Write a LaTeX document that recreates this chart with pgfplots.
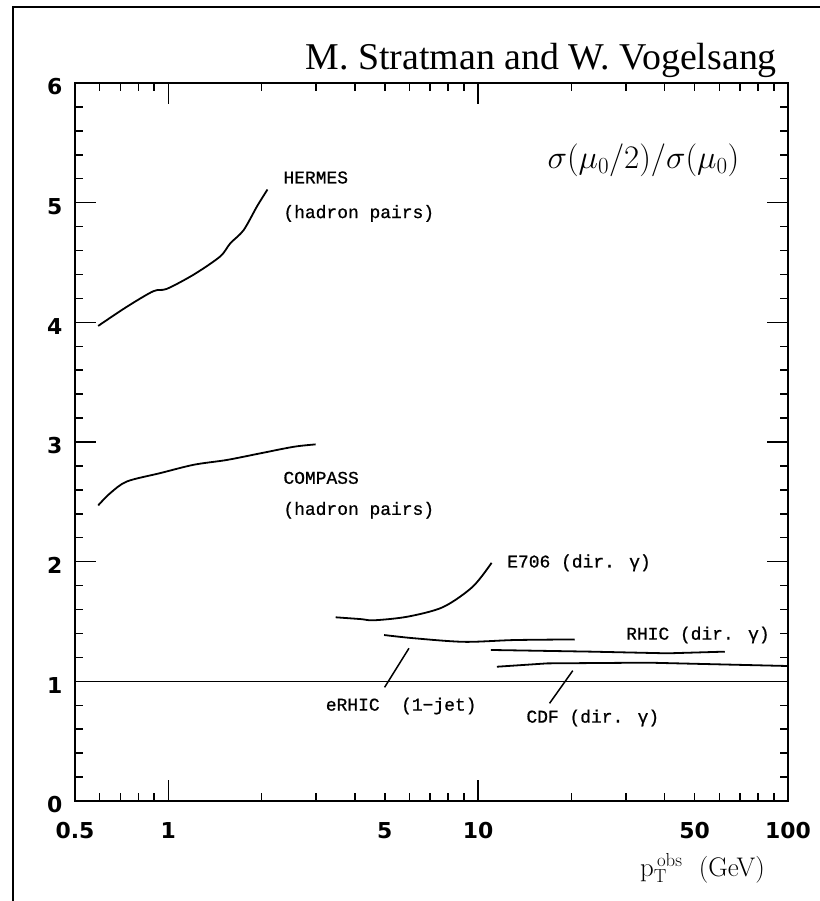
\RequirePackage{fix-cm}
\documentclass[border=0pt]{standalone}
\usepackage{fontspec}
\usepackage{pgfplots}
\pgfplotsset{compat=1.18}
\newfontfamily\titlefont{Liberation Serif}
\newfontfamily\monolab[FakeBold=0.8]{Liberation Mono}
\newfontfamily\tickfont{DejaVu Sans}
\newcommand{\lab}{\monolab\fontsize{18}{18}\selectfont}

\begin{document}
\begin{tikzpicture}[x=1bp,y=1bp]
\useasboundingbox (0,0) rectangle (820,901);
\draw[line width=1.3bp] (13,-5) -- (13,894) -- (825,894);
\begin{axis}[
  at={(75bp,100bp)}, anchor=south west,
  width=713bp, height=718bp, scale only axis,
  xmode=log, xmin=0.5, xmax=100, ymin=0, ymax=6,
  xtick={1,10}, xticklabels={1,10},
  extra x ticks={0.5,5,50,100}, extra x tick labels={0.5,5,50,100},
  extra x tick style={major tick length=0pt},
  minor xtick={0.6,0.7,0.8,0.9,2,3,4,5,6,7,8,9,20,30,40,50,60,70,80,90},
  ytick={0,1,2,3,4,5,6}, yticklabels={0,1,2,3,4,5,6},
  minor y tick num=4,
  major tick length=21bp, minor tick length=8bp,
  tick align=inside,
  axis line style={line width=1.6bp},
  tick style={black, line width=1.5bp},
  tick label style={font=\tickfont\bfseries\fontsize{22}{22}\selectfont},
  xticklabel style={yshift=-18bp},
  yticklabel style={xshift=-9bp, yshift=-4bp},
  clip=false,
]
% HERMES
\addplot[black, line width=1.8bp, smooth] coordinates {
 (0.594,3.97) (0.735,4.13) (0.895,4.26) (0.99,4.28) (1.21,4.40) (1.47,4.55)
 (1.585,4.66) (1.75,4.77) (1.935,4.97) (2.09,5.11)};
% COMPASS
\addplot[black, line width=1.8bp, smooth] coordinates {
 (0.594,2.47) (0.648,2.57) (0.735,2.67) (0.942,2.74) (1.21,2.81) (1.547,2.85)
 (1.98,2.905) (2.54,2.96) (2.99,2.98)};
% E706
\addplot[black, line width=1.8bp, smooth] coordinates {
 (3.47,1.535) (4.18,1.52) (4.61,1.51) (5.91,1.54) (7.7,1.62) (9.6,1.79) (11.05,1.99)};
% eRHIC
\addplot[black, line width=1.8bp, smooth] coordinates {
 (4.97,1.387) (6.21,1.36) (9.02,1.33) (13.1,1.345) (20.5,1.35)};
% RHIC
\addplot[black, line width=1.8bp] coordinates {
 (11.0,1.262) (23.2,1.248) (40.9,1.234) (62.5,1.248)};
% CDF
\addplot[black, line width=1.8bp] coordinates {
 (11.5,1.122) (16.7,1.15) (35.3,1.156) (74.3,1.136) (100,1.128)};
% pointers
\addplot[black, line width=1.5bp] coordinates {(5.98,1.276) (4.99,0.95)};
\addplot[black, line width=1.5bp] coordinates {(20.2,1.089) (17.0,0.816)};
% unity line
\addplot[black, line width=1.2bp] coordinates {(0.5,1) (100,1)};

\node[anchor=west, inner sep=0, font=\lab] at (axis cs:2.35,5.21) {HERMES};
\node[anchor=west, inner sep=0, font=\lab] at (axis cs:2.35,4.91) {(hadron pairs)};
\node[anchor=west, inner sep=0, font=\lab] at (axis cs:2.35,2.70) {COMPASS};
\node[anchor=west, inner sep=0, font=\lab] at (axis cs:2.35,2.43) {(hadron pairs)};
\node[anchor=west, inner sep=0, font=\lab] at (axis cs:12.4,1.99) {E706 (dir. γ)};
\node[anchor=west, inner sep=0, font=\lab] at (axis cs:30.0,1.387) {RHIC (dir. γ)};
\node[anchor=west, inner sep=0, font=\lab] at (axis cs:3.22,0.794) {eRHIC\ \ (1−jet)};
\node[anchor=west, inner sep=0, font=\lab] at (axis cs:14.3,0.694) {CDF (dir. γ)};
\node[anchor=east, inner sep=0, font=\fontsize{33}{33}\selectfont] at (axis cs:69.7,5.356) {$\sigma(\mu_0/2)/\sigma(\mu_0)$};
\end{axis}
\node[anchor=base east, inner sep=0, font=\titlefont\fontsize{38}{38}\selectfont] at (777,831) {M. Stratman and W. Vogelsang};
\node[anchor=east, inner sep=0, font=\fontsize{27}{27}\selectfont] at (765,33) {p$_{\mathrm{T}}^{\,\mathrm{obs}}$\ \ (GeV)};
\end{tikzpicture}
\end{document}
